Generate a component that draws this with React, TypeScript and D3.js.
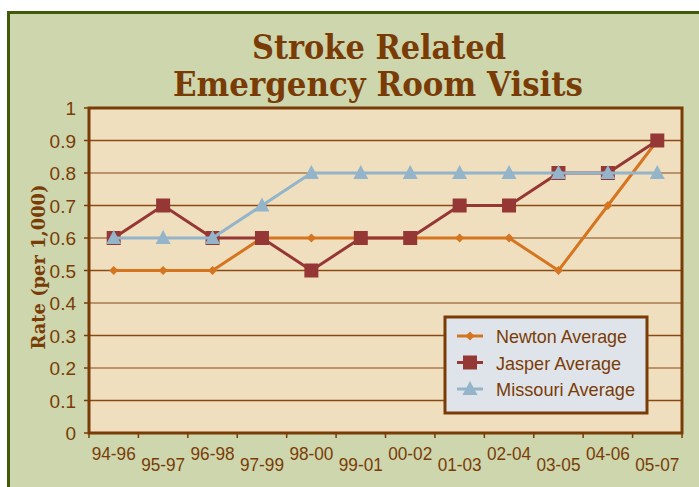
import React from "react";
import * as d3 from "d3";

// periods on the x axis
const periods = ["94-96", "95-97", "96-98", "97-99", "98-00", "99-01", "00-02", "01-03", "02-04", "03-05", "04-06", "05-07"];
// rates per 1,000
const newton = [0.5, 0.5, 0.5, 0.6, 0.6, 0.6, 0.6, 0.6, 0.6, 0.5, 0.7, 0.9];
const jasper = [0.6, 0.7, 0.6, 0.6, 0.5, 0.6, 0.6, 0.7, 0.7, 0.8, 0.8, 0.9];
const missouri = [0.6, 0.6, 0.6, 0.7, 0.8, 0.8, 0.8, 0.8, 0.8, 0.8, 0.8, 0.8];
const yTicks = [0, 0.1, 0.2, 0.3, 0.4, 0.5, 0.6, 0.7, 0.8, 0.9, 1];
const seriesNames = ["Newton Average", "Jasper Average", "Missouri Average"];

const brown = "#7a3c06";
const colors = ["#d57520", "#953735", "#93b4c9"];

const App = () => {
  const width = 699;
  const height = 487;
  const margin = { top: 108, right: 17, bottom: 54, left: 89 };

  const xScale = d3
    .scaleBand()
    .domain(periods)
    .range([margin.left, width - margin.right]);

  const yScale = d3
    .scaleLinear()
    .domain([0, 1])
    .range([height - margin.bottom, margin.top]);

  const cx = (i: number) => xScale(periods[i])! + xScale.bandwidth() / 2;

  const line = d3
    .line<number>()
    .x((d, i) => cx(i))
    .y((d) => yScale(d));

  const marker = (k: number, x: number, y: number, key: string) => {
    if (k === 0) {
      const s = 4.5;
      return (
        <path key={key} d={`M${x},${y - s}L${x + s},${y}L${x},${y + s}L${x - s},${y}Z`} fill={colors[0]} />
      );
    }
    if (k === 1) {
      return <rect key={key} x={x - 7} y={y - 7} width={14} height={14} fill={colors[1]} />;
    }
    return (
      <path key={key} d={`M${x},${y - 8}L${x + 7.5},${y + 6}L${x - 7.5},${y + 6}Z`} fill={colors[2]} />
    );
  };

  const allSeries = [newton, jasper, missouri];
  const x0 = margin.left;
  const x1 = width - margin.right;
  const y0 = height - margin.bottom;
  const y1 = margin.top;

  const legend = { x: 445, y: 317, w: 202, h: 96 };
  const legendWidths = [131, 125, 139];

  return (
    <svg
      width={width}
      height={height}
      style={{ position: "absolute", left: 0, top: 0 }}
      fontFamily="'Liberation Sans', Arial, sans-serif"
    >
      <rect x={0} y={0} width={width} height={height} fill="#ffffff" />
      <rect x={8.5} y={12.5} width={width + 10} height={height + 10} fill="#cdd6ad" stroke="#3f5a08" strokeWidth={3} />

      {/* title */}
      <text
        x={379}
        y={59}
        textAnchor="middle"
        fontFamily="'DejaVu Serif', serif"
        fontWeight="bold"
        fontSize={33}
        fill={brown}
        textLength={254}
        lengthAdjust="spacingAndGlyphs"
      >
        Stroke Related
      </text>
      <text
        x={378}
        y={96}
        textAnchor="middle"
        fontFamily="'DejaVu Serif', serif"
        fontWeight="bold"
        fontSize={33}
        fill={brown}
        textLength={410}
        lengthAdjust="spacingAndGlyphs"
      >
        Emergency Room Visits
      </text>

      {/* plot area */}
      <rect x={x0} y={y1} width={x1 - x0} height={y0 - y1} fill="#f0dfbf" />
      {yTicks.slice(1, -1).map((t, i) => (
        <line
          key={t}
          x1={x0}
          x2={x1}
          y1={yScale(t)}
          y2={yScale(t)}
          stroke={i % 2 === 0 ? "#8a4a12" : "#a97a4c"}
          strokeWidth={1.5}
        />
      ))}
      <rect x={x0} y={y1} width={x1 - x0} height={y0 - y1} fill="none" stroke={brown} strokeWidth={3} />

      {/* y axis */}
      {yTicks.map((t) => (
        <g key={t}>
          <line x1={x0 - 5} x2={x0} y1={yScale(t)} y2={yScale(t)} stroke={brown} strokeWidth={1.5} />
          <text x={76} y={yScale(t) + 7} textAnchor="end" fontSize={19} fill={brown}>
            {t}
          </text>
        </g>
      ))}

      {/* x axis */}
      {d3.range(periods.length + 1).map((i) => {
        const x = i < periods.length ? xScale(periods[i])! : x1;
        return <line key={i} x1={x} x2={x} y1={y0} y2={y0 + 5} stroke={brown} strokeWidth={1.5} />;
      })}
      {periods.map((p, i) => (
        <text
          key={p}
          x={cx(i)}
          y={i % 2 === 0 ? 460 : 471}
          textAnchor="middle"
          fontSize={19}
          fill={brown}
          textLength={44}
          lengthAdjust="spacingAndGlyphs"
        >
          {p}
        </text>
      ))}

      <text
        transform={`translate(45,267) rotate(-90)`}
        textAnchor="middle"
        fontFamily="'DejaVu Serif', serif"
        fontWeight="bold"
        fontSize={18}
        fill={brown}
        textLength={165}
        lengthAdjust="spacingAndGlyphs"
      >
        Rate (per 1,000)
      </text>

      {/* series */}
      {allSeries.map((s, k) => (
        <g key={k}>
          <path d={line(s)!} fill="none" stroke={colors[k]} strokeWidth={3} />
          {s.map((v, i) => marker(k, cx(i), yScale(v), `${k}-${i}`))}
        </g>
      ))}

      {/* legend */}
      <rect x={legend.x} y={legend.y} width={legend.w} height={legend.h} fill="#dfe4ea" stroke={brown} strokeWidth={3} />
      {seriesNames.map((n, k) => {
        const ly = 336 + k * 26.5;
        return (
          <g key={n}>
            <line x1={457} x2={483} y1={ly} y2={ly} stroke={colors[k]} strokeWidth={3} />
            {marker(k, 470, ly, `lg-${k}`)}
            <text
              x={496}
              y={ly + 7}
              fontSize={19}
              fill={brown}
              textLength={legendWidths[k]}
              lengthAdjust="spacingAndGlyphs"
            >
              {n}
            </text>
          </g>
        );
      })}
    </svg>
  );
};

export default App;
